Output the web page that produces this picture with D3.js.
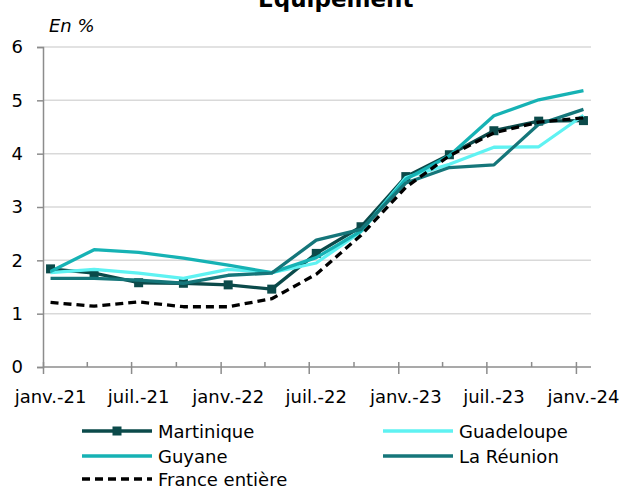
<!DOCTYPE html>
<html><head><meta charset="utf-8">
<script src="https://cdn.jsdelivr.net/npm/d3@7"></script>
<style>
body{margin:0;background:#fff;}
svg{display:block;font-family:"DejaVu Sans",Verdana,sans-serif;}
</style></head>
<body><svg id="c" width="626" height="490"></svg>
<script>
const months = ["2021-01","2021-04","2021-07","2021-10","2022-01","2022-04","2022-07","2022-10","2023-01","2023-04","2023-07","2023-10","2024-01"];
const martinique = [1.84,1.76,1.58,1.57,1.54,1.46,2.13,2.63,3.57,3.98,4.43,4.61,4.62];
const guadeloupe = [1.77,1.83,1.76,1.66,1.83,1.77,1.95,2.54,3.55,3.80,4.12,4.13,4.72];
const guyane     = [1.79,2.20,2.15,2.04,1.91,1.77,2.05,2.55,3.52,3.96,4.71,5.01,5.18];
const reunion    = [1.66,1.66,1.63,1.57,1.72,1.76,2.38,2.58,3.45,3.74,3.79,4.55,4.83];
const france     = [1.21,1.14,1.22,1.13,1.13,1.28,1.74,2.47,3.37,3.96,4.39,4.59,4.67];
const xLabels = ["janv.-21","juil.-21","janv.-22","juil.-22","janv.-23","juil.-23","janv.-24"];
const yTicks = [0,1,2,3,4,5,6];

const series = [
  {name:"Martinique", values:martinique, color:"#0b4a4a", marker:true},
  {name:"Guadeloupe", values:guadeloupe, color:"#5ff2f2"},
  {name:"Guyane", values:guyane, color:"#16b2b4"},
  {name:"La Réunion", values:reunion, color:"#15767a"},
  {name:"France entière", values:france, color:"#000000", dash:"8,5"}
];

const parse = d3.timeParse("%Y-%m");
const dates = months.map(parse);
const svg = d3.select("#c");
const L=43, R=591, T=47, B=367;
const x = d3.scaleTime().domain([parse("2021-01"), parse("2024-02")]).range([L,R]);
const y = d3.scaleLinear().domain([0,6]).range([B,T]);
const mid = d => (x(d) + x(d3.timeMonth.offset(d,1)))/2;

// gridlines
svg.append("g").selectAll("line").data(yTicks.filter(v=>v>0)).join("line")
  .attr("x1",L).attr("x2",R).attr("y1",d=>y(d)).attr("y2",d=>y(d))
  .attr("stroke","#d9d9d9").attr("stroke-width",1.5);

// y axis
const ya = svg.append("g").attr("transform",`translate(${L},0)`)
  .call(d3.axisLeft(y).tickValues(yTicks).tickSize(6).tickPadding(14).tickFormat(d3.format("d")));
ya.select(".domain").attr("stroke","#8c8c8c").attr("stroke-width",1.5);
ya.selectAll(".tick line").attr("stroke","#8c8c8c").attr("stroke-width",1.5);
ya.selectAll("text").attr("font-size",18).attr("fill","#000").attr("font-family","DejaVu Sans");

// x axis: quarterly ticks
const allTicks = d3.timeMonth.every(3).range(parse("2021-01"), parse("2024-02"));
const xa = svg.append("g").attr("transform",`translate(0,${B})`)
  .call(d3.axisBottom(x).tickValues(allTicks).tickSizeInner(0).tickSizeOuter(0).tickFormat(""));
xa.select(".domain").attr("stroke","#8c8c8c").attr("stroke-width",1.5).attr("d",`M${L},0H${R}`);
xa.selectAll(".tick line")
  .attr("y1", d=> d.getMonth()%6===0 ? -5 : -5)
  .attr("y2", d=> d.getMonth()%6===0 ? 7 : 0)
  .attr("stroke","#8c8c8c").attr("stroke-width",1.5);

// x labels centered at mid-month
const labelDates = d3.timeMonth.every(6).range(parse("2021-01"), parse("2024-02"));
svg.append("g").selectAll("text").data(labelDates).join("text")
  .attr("x",d=>mid(d)).attr("y",403).attr("text-anchor","middle")
  .attr("font-size",18).attr("fill","#000")
  .text((d,i)=>xLabels[i]);

// lines
const line = vals => d3.line().x((v,i)=>mid(dates[i])).y(v=>y(v))(vals);
series.forEach(s=>{
  svg.append("path").attr("d",line(s.values)).attr("fill","none")
    .attr("stroke",s.color).attr("stroke-width",3.3)
    .attr("stroke-dasharray",s.dash||null).attr("stroke-linejoin","round");
  if(s.marker){
    svg.append("g").selectAll("rect").data(s.values).join("rect")
      .attr("x",(v,i)=>mid(dates[i])-4.5).attr("y",v=>y(v)-4.5)
      .attr("width",9).attr("height",9).attr("fill",s.color);
  }
});

// title & unit
svg.append("text").attr("x",258).attr("y",7).attr("font-size",23).attr("font-weight","bold")
  .attr("fill","#000").text("Equipement");
svg.append("text").attr("x",49).attr("y",32).attr("font-size",18).attr("font-style","italic")
  .attr("fill","#000").text("En %");

// legend
const legPos = [[82,431],[383,431],[82,456],[383,456],[82,479]];
const lg = svg.append("g");
series.forEach((s,i)=>{
  const [lx,ly] = legPos[i];
  lg.append("line").attr("x1",lx).attr("x2",lx+70).attr("y1",ly).attr("y2",ly)
    .attr("stroke",s.color).attr("stroke-width",3.3).attr("stroke-dasharray",s.dash||null);
  if(s.marker) lg.append("rect").attr("x",lx+35-4.5).attr("y",ly-4.5).attr("width",9).attr("height",9).attr("fill",s.color);
  lg.append("text").attr("x",lx+76).attr("y",ly+6.5).attr("font-size",18).attr("fill","#000").text(s.name);
});
</script></body></html>
